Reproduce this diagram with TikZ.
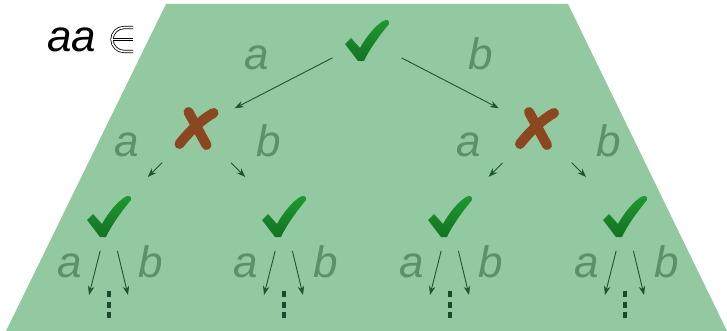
\documentclass[tikz,border=0pt]{standalone}
\usepackage{fontspec}
\setmainfont{Liberation Sans}
\usetikzlibrary{arrows.meta}
\definecolor{bgfill}{HTML}{93C9A1}
\definecolor{lblc}{HTML}{5B9168}
\definecolor{arrc}{HTML}{1C5530}
\definecolor{chkl}{HTML}{1E9A30}
\definecolor{chkd}{HTML}{137222}
\definecolor{crsc}{HTML}{8B4720}
\definecolor{dotc}{HTML}{1A4A2A}
\tikzset{
  lbl/.style={anchor=base, inner sep=0pt, text=lblc, font=\fontsize{44}{44}\selectfont\itshape},
  arr/.style={draw=arrc, line width=0.9pt, -{Stealth[length=9pt,width=6.5pt]}},
  lvlone/.style={arr, shorten <=39pt, shorten >=43pt},
  lvltwo/.style={arr, shorten <=49pt, shorten >=55pt},
  lvlthree/.style={arr, shorten <=36pt},
  elm/.style={draw=black, line width=0.8pt, double=white, double distance=1.6pt},
  checkmark/.pic={
    \shade[top color=chkl, bottom color=chkd]
      (-22,4) -- (-16,-2) -- (-7,8)
      .. controls (-1,-3) and (8,-14) .. (16,-19)
      .. controls (19,-21) and (23,-20) .. (22,-16)
      .. controls (12,-4) and (2,10) .. (-3,21)
      -- (-9,21) -- cycle;
  },
  crossmark/.pic={
    \draw[crsc, line width=10pt, line cap=round] (-8,-16) .. controls (-1,-3) and (4,6) .. (10,17);
    \draw[crsc, line width=10pt, line cap=round] (17,-15) .. controls (6,-9) and (-7,3) .. (-17,16);
  }
}
\begin{document}
\begin{tikzpicture}[x=1pt,y=-1pt]
\useasboundingbox (0,0) rectangle (727,331);
\fill[bgfill] (166,4) -- (568,4) -- (727,331) -- (6,331) -- cycle;
% header
\node[anchor=base, inner sep=0pt, font=\fontsize{44}{44}\selectfont\itshape] (aa) at (72,52) {aa};
\draw[elm] (133,27.5) -- (124,27.5) arc[start angle=270, end angle=90, radius=12] -- (133,51.5);
\draw[elm] (112.5,39.5) -- (133,39.5);
% nodes
\coordinate (r) at (367,40);
\coordinate (x1) at (196.5,128);
\coordinate (x2) at (537,128);
\coordinate (c1) at (109,216);
\coordinate (c2) at (284,216);
\coordinate (c3) at (450,216);
\coordinate (c4) at (625,216);
\pic at (r) {checkmark};
\pic at (x1) {crossmark};
\pic at (x2) {crossmark};
\foreach \n in {1,2,3,4} { \pic at (c\n) {checkmark}; }
% level 1
\draw[lvlone] (r) -- (x1);
\draw[lvlone] (r) -- (x2);
\node[lbl] (la0) at (257,70) {a};
\node[lbl] (lb0) at (481,70) {b};
% level 2
\draw[lvltwo] (x1) -- (c1);
\draw[lvltwo] (x1) -- (c2);
\draw[lvltwo] (x2) -- (c3);
\draw[lvltwo] (x2) -- (c4);
\node[lbl] (la1) at (127,157) {a};
\node[lbl] (lb1) at (269,157) {b};
\node[lbl] (la2) at (469,157) {a};
\node[lbl] (lb2) at (609,157) {b};
% level 3
\foreach \n/\xx/\la/\lb in {1/109/70/151, 2/284/246/326, 3/450/412/491, 4/625/587/667}{
  \coordinate (e\n a) at (\xx-20,295);
  \coordinate (e\n b) at (\xx+19,295);
  \draw[lvlthree] (c\n) -- (e\n a);
  \draw[lvlthree] (c\n) -- (e\n b);
  \node[lbl] (l\n a) at (\la,277) {a};
  \node[lbl] (l\n b) at (\lb,277) {b};
  \fill[dotc] (\xx-2,291) rectangle (\xx+2,297);
  \fill[dotc] (\xx-2,302) rectangle (\xx+2,308);
  \fill[dotc] (\xx-2,312) rectangle (\xx+2,318);
}
\end{tikzpicture}
\end{document}
